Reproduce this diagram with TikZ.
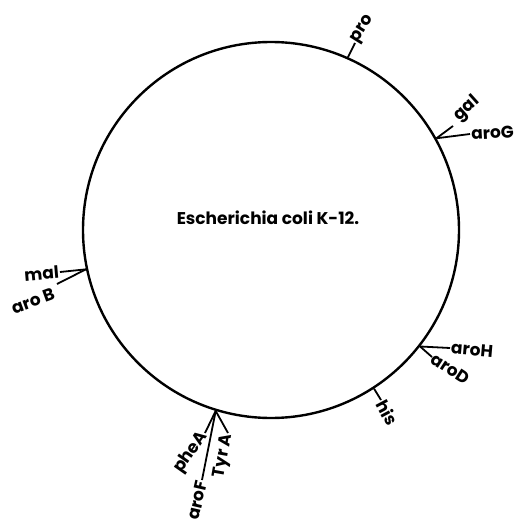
\documentclass[tikz,border=0pt]{standalone}
\usepackage{fontspec}
\setmainfont{Poppins}
\begin{document}
\begin{tikzpicture}[x=1pt,y=-1pt,
  lbl/.style={font=\fontsize{17}{17}\selectfont\bfseries, inner sep=1pt},
  tick/.style={line width=1.8pt},
]
\useasboundingbox (0,0) rectangle (520,519);
\node[circle, draw, line width=2.4pt, minimum size=376pt, inner sep=0pt] (cell) at (271,230) {};
\node[lbl] (title) at (268,218) {Escherichia coli K-12.};
% pro
\coordinate (proE) at (355,43);
\draw[tick] (cell.66) -- (proE);
\node[lbl, rotate=58, anchor=west] (pro) at (proE) {pro};
% gal, aroG
\coordinate (galE) at (453,126);
\coordinate (aroGE) at (470,134);
\draw[tick] (cell.29.6) -- (galE);
\draw[tick] (cell.29.6) -- (aroGE);
\node[lbl, rotate=42] (gal) at (467,109) {gal};
\node[lbl, rotate=3, anchor=west] (aroG) at (aroGE) {aroG};
% mal, aroB
\coordinate (malE) at (60,272);
\coordinate (aroBE) at (57,284);
\draw[tick] (cell.192.3) -- (malE);
\draw[tick] (cell.192.3) -- (aroBE);
\node[lbl, rotate=5, anchor=east] (mal) at (malE) {mal};
\node[lbl, rotate=20] (aroB) at (33,301) {aro B};
% aroH, aroD
\coordinate (aroHE) at (450,348);
\coordinate (aroDE) at (432,357);
\draw[tick] (cell.-38.2) -- (aroHE);
\draw[tick] (cell.-38.2) -- (aroDE);
\node[lbl, rotate=-5, anchor=west] (aroH) at (aroHE) {aroH};
\node[lbl, rotate=-33, anchor=west] (aroD) at (aroDE) {aroD};
% his
\coordinate (hisE) at (381,400);
\draw[tick] (cell.-57.2) -- (hisE);
\node[lbl, rotate=-62, anchor=west] (his) at (hisE) {his};
% pheA, aroF, TyrA
\coordinate (pheAE) at (205,433);
\coordinate (aroFE) at (202,480);
\coordinate (TyrAE) at (228,433);
\draw[tick] (cell.253.8) -- (pheAE);
\draw[tick] (cell.253.8) -- (aroFE);
\draw[tick] (cell.253.8) -- (TyrAE);
\node[lbl, rotate=55, anchor=east] (pheA) at (pheAE) {pheA};
\node[lbl, rotate=80, anchor=east] (TyrA) at (TyrAE) {Tyr A};
\node[lbl, rotate=77, anchor=east] (aroF) at (aroFE) {aroF};
\end{tikzpicture}
\end{document}
